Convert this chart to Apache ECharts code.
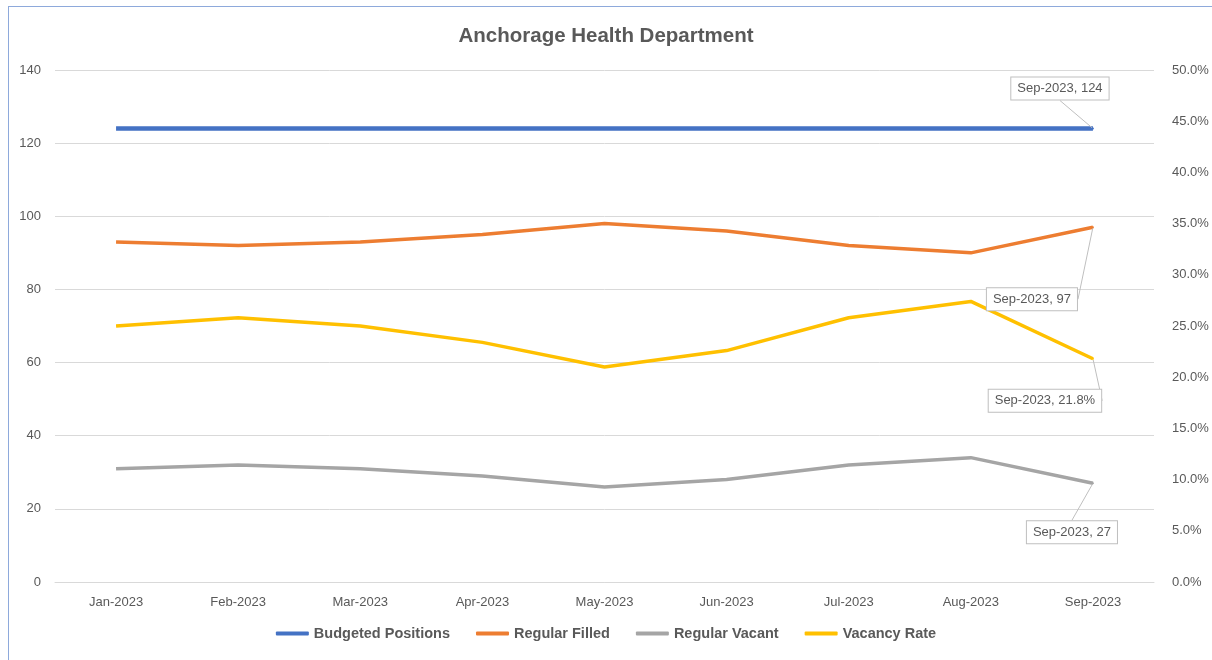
<!DOCTYPE html>
<html>
<head>
<meta charset="utf-8">
<script src="https://cdn.jsdelivr.net/npm/echarts@6/dist/echarts.min.js"></script>
<style>
  html, body { margin: 0; padding: 0; background: #fff; }
  #chart { position: absolute; left: 0; top: 0; width: 1212px; height: 660px; }
  .edgeTop { position: absolute; left: 8px; top: 6px; width: 1204px; height: 0; border-top: 1.5px solid #8ea9db; }
  .edgeLeft { position: absolute; left: 8px; top: 6px; width: 0; height: 654px; border-left: 1.5px solid #8ea9db; }
</style>
</head>
<body>
<div id="chart"></div>
<div class="edgeTop"></div>
<div class="edgeLeft"></div>
<script>
// data
const months = ['Jan-2023', 'Feb-2023', 'Mar-2023', 'Apr-2023', 'May-2023', 'Jun-2023', 'Jul-2023', 'Aug-2023', 'Sep-2023'];
const budgeted = [124, 124, 124, 124, 124, 124, 124, 124, 124];
const filled = [93, 92, 93, 95, 98, 96, 92, 90, 97];
const vacant = [31, 32, 31, 29, 26, 28, 32, 34, 27];
const vacancyRate = [25.0, 25.8, 25.0, 23.4, 21.0, 22.6, 25.8, 27.4, 21.8]; // percent

const font = "'Liberation Sans', sans-serif";
const textGrey = '#595959';
const last = months.length - 1;

// only the last point gets a callout
let withCallout = (arr) => arr.map((v, i) => i === last
  ? { value: v, symbol: 'circle', symbolSize: 2, label: { show: true } }
  : { value: v, symbol: 'none' });

let callout = (dx, dy, pct) => ({
  label: {
    show: false,
    position: 'inside',
    formatter: (p) => p.name + ', ' + (pct ? p.value.toFixed(1) + '%' : p.value),
    color: textGrey,
    fontFamily: font,
    fontSize: 13,
    backgroundColor: '#fff',
    borderColor: '#bfbfbf',
    borderWidth: 1,
    padding: [5, 6, 4, 6]
  },
  labelLine: { show: true, lineStyle: { color: '#bfbfbf', width: 1 } },
  labelLayout: (params) => ({
    x: params.rect.x + params.rect.width / 2 + dx,
    y: params.rect.y + params.rect.height / 2 + dy,
    align: 'center',
    verticalAlign: 'middle'
  })
});

const option = {
  animation: false,
  title: {
    text: 'Anchorage Health Department',
    left: 'center',
    top: 21,
    textStyle: { color: textGrey, fontSize: 20.5, fontWeight: 'bold', fontFamily: font }
  },
  legend: {
    bottom: 14,
    left: 'center',
    itemWidth: 33,
    itemHeight: 4,
    itemGap: 26,
    icon: 'roundRect',
    textStyle: { color: textGrey, fontSize: 14.5, fontWeight: 'bold', fontFamily: font }
  },
  grid: { left: 55, right: 58, top: 70, bottom: 78 },
  xAxis: {
    type: 'category',
    data: months,
    boundaryGap: true,
    axisLine: { lineStyle: { color: '#d9d9d9' } },
    axisTick: { show: false },
    axisLabel: { color: textGrey, fontSize: 13, fontFamily: font, margin: 14 }
  },
  yAxis: [
    {
      type: 'value',
      min: 0, max: 140, interval: 20,
      axisLabel: { color: textGrey, fontSize: 13, fontFamily: font, margin: 14 },
      splitLine: { lineStyle: { color: '#d9d9d9' } }
    },
    {
      type: 'value',
      min: 0, max: 50, interval: 5,
      axisLabel: { color: textGrey, fontSize: 13, fontFamily: font, margin: 18, formatter: (v) => v.toFixed(1) + '%' },
      splitLine: { show: false }
    }
  ],
  series: [
    Object.assign({
      name: 'Budgeted Positions', type: 'line', data: withCallout(budgeted),
      color: '#4472c4', lineStyle: { width: 4.5 }, z: 4
    }, callout(-33, -40, false)),
    Object.assign({
      name: 'Regular Filled', type: 'line', data: withCallout(filled),
      color: '#ed7d31', lineStyle: { width: 3.5 }
    }, callout(-61, 72, false)),
    Object.assign({
      name: 'Regular Vacant', type: 'line', data: withCallout(vacant),
      color: '#a5a5a5', lineStyle: { width: 3.5 }
    }, callout(-21, 49, false)),
    Object.assign({
      name: 'Vacancy Rate', type: 'line', yAxisIndex: 1, data: withCallout(vacancyRate),
      color: '#ffc000', lineStyle: { width: 3.5 }
    }, callout(-48, 42, true))
  ]
};

let myChart = echarts.init(document.getElementById('chart'));
myChart.setOption(option);
</script>
</body>
</html>
